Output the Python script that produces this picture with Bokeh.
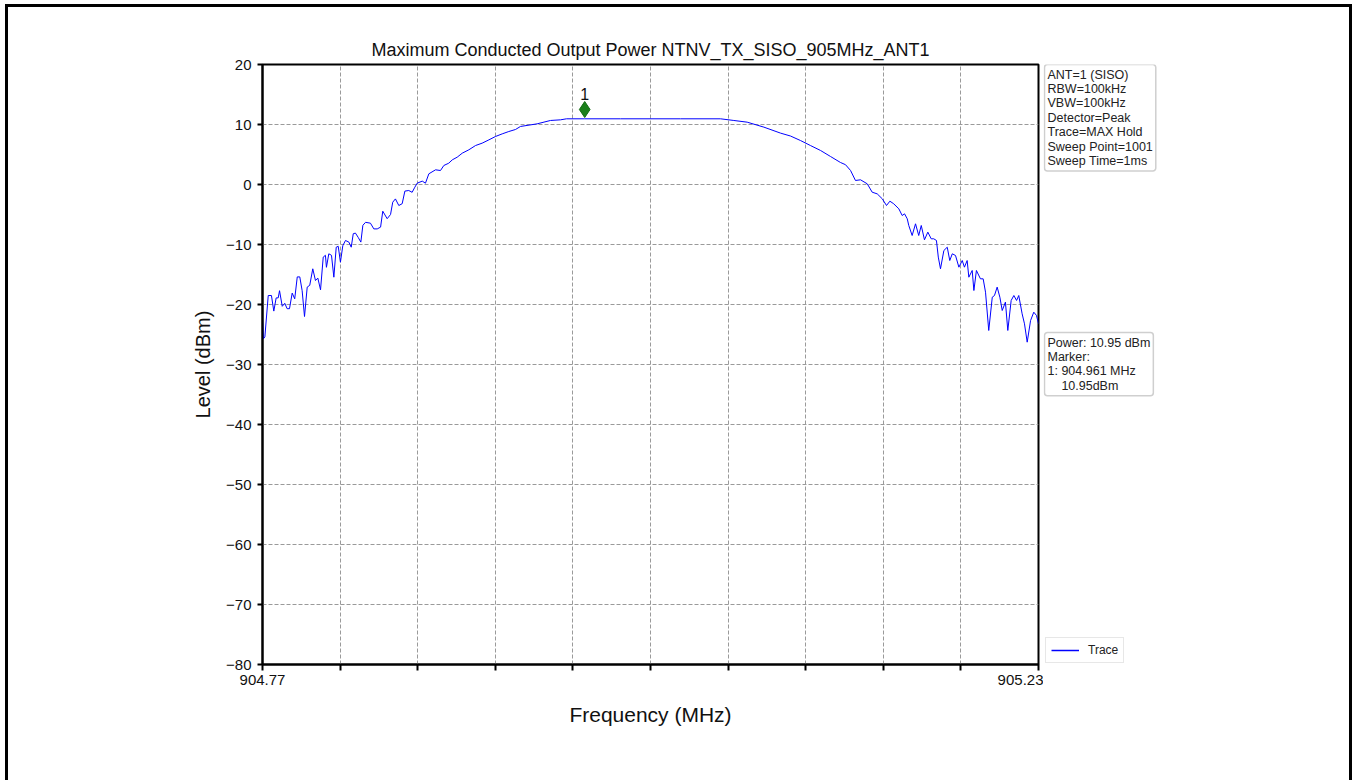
from bokeh.plotting import figure
from bokeh.layouts import row
from bokeh.core.properties import value
from bokeh.models import FixedTicker, Label, Legend, LegendItem, ColumnDataSource
from bokeh.transform import dodge
from bokeh.embed import file_html
from bokeh.resources import INLINE

# Spectrum trace (MAX hold), frequency in MHz and level in dBm
freq_mhz = [
    904.7700, 904.7706, 904.7714, 904.7734, 904.7753, 904.7767, 904.7781, 904.7793, 904.7801, 904.7817,
    904.7832, 904.7846, 904.7860, 904.7876, 904.7891, 904.7906, 904.7921, 904.7935, 904.7949, 904.7965,
    904.7980, 904.7998, 904.8014, 904.8028, 904.8044, 904.8060, 904.8073, 904.8079, 904.8093, 904.8109,
    904.8123, 904.8137, 904.8149, 904.8162, 904.8176, 904.8192, 904.8212, 904.8226, 904.8238, 904.8251,
    904.8267, 904.8283, 904.8295, 904.8311, 904.8340, 904.8360, 904.8380, 904.8400, 904.8413, 904.8439,
    904.8459, 904.8472, 904.8488, 904.8508, 904.8528, 904.8544, 904.8567, 904.8587, 904.8603, 904.8617,
    904.8647, 904.8666, 904.8686, 904.8726, 904.8755, 904.8775, 904.8804, 904.8825, 904.8854, 904.8884,
    904.8923, 904.8963, 904.9002, 904.9042, 904.9081, 904.9121, 904.9160, 904.9200, 904.9229, 904.9328,
    904.9407, 904.9467, 904.9502, 904.9610, 904.9822, 905.0178, 905.0415, 905.0494, 905.0573, 905.0672,
    905.0771, 905.0830, 905.0889, 905.0948, 905.1008, 905.1067, 905.1126, 905.1156, 905.1186, 905.1215,
    905.1245, 905.1285, 905.1314, 905.1344, 905.1374, 905.1399, 905.1419, 905.1442, 905.1472, 905.1492,
    905.1506, 905.1522, 905.1531, 905.1551, 905.1571, 905.1590, 905.1605, 905.1624, 905.1644, 905.1664,
    905.1679, 905.1695, 905.1706, 905.1719, 905.1739, 905.1759, 905.1774, 905.1789, 905.1808, 905.1828,
    905.1848, 905.1861, 905.1877, 905.1887, 905.1907, 905.1917, 905.1932, 905.1956, 905.1972, 905.1986,
    905.2005, 905.2026, 905.2039, 905.2055, 905.2071, 905.2085, 905.2104, 905.2118, 905.2138, 905.2154,
    905.2170, 905.2183, 905.2203, 905.2217, 905.2233, 905.2253, 905.2272, 905.2288, 905.2300,
]
level_dbm = [
    -22.4, -25.7, -25.4, -18.5, -18.5, -21.1, -18.9, -18.9, -17.7, -20.3,
    -19.8, -20.7, -20.7, -18.1, -19.05, -15.4, -15.4, -17.7, -22.0, -17.1,
    -16.8, -14.05, -16.0, -15.6, -17.55, -12.1, -11.8, -13.8, -11.55, -11.8,
    -15.45, -10.45, -10.3, -12.95, -10.2, -9.33, -9.6, -10.45, -8.2, -8.1,
    -8.8, -9.6, -6.8, -6.3, -6.45, -7.4, -7.4, -7.1, -4.45, -5.7,
    -5.0, -2.95, -2.4, -3.5, -3.2, -1.1, -1.0, -1.3, -0.45, 0.22,
    0.56, 0.22, 1.78, 2.45, 2.33, 3.17, 3.55, 4.11, 4.55, 5.22,
    5.78, 6.5, 6.89, 7.44, 8.0, 8.44, 8.83, 9.17, 9.67, 10.11,
    10.67, 10.78, 10.95, 10.95, 10.95, 10.95, 10.95, 10.67, 10.39, 9.56,
    8.56, 8.08, 7.33, 6.5, 5.67, 4.67, 3.67, 3.3, 2.33, 0.67,
    0.78, 0.11, -1.28, -1.56, -2.39, -3.5, -2.78, -3.22, -4.05, -5.17,
    -4.89, -5.72, -6.83, -8.5, -6.55, -8.5, -6.83, -9.22, -7.94, -9.05,
    -9.05, -9.33, -12.1, -14.05, -11.0, -10.45, -12.67, -11.55, -11.83, -13.78,
    -12.67, -13.78, -12.67, -15.45, -14.33, -17.67, -14.33, -15.72, -15.72, -17.95,
    -24.33, -18.78, -18.5, -17.1, -18.78, -21.0, -19.6, -24.33, -19.33, -18.5,
    -19.33, -18.5, -21.55, -23.22, -26.28, -22.67, -21.28, -21.83, -23.2,
]

# Peak marker
marker_freq = [904.961]
marker_level = [10.95]
marker_name = ["1"]
channel_power_dbm = 10.95

# Axis ticks
x_ticks = [904.770, 904.816, 904.862, 904.908, 904.954, 905.000,
           905.046, 905.092, 905.138, 905.184, 905.230]
x_tick_labels = ["904.77", "", "", "", "", "", "", "", "", "", "905.23"]
y_ticks = [-80, -70, -60, -50, -40, -30, -20, -10, 0, 10, 20]
y_tick_labels = ["\u221280", "\u221270", "\u221260", "\u221250", "\u221240", "\u221230",
                 "\u221220", "\u221210", "0", "10", "20"]

settings_lines = ["ANT=1 (SISO)", "RBW=100kHz", "VBW=100kHz", "Detector=Peak",
                  "Trace=MAX Hold", "Sweep Point=1001", "Sweep Time=1ms"]

FONT = "Liberation Sans"
TRACE_COLOR = "#0000ff"

# ---- main spectrum plot ----
p = figure(
    width=1035, height=773,
    x_range=(904.77, 905.23), y_range=(-80, 20),
    output_backend="svg", toolbar_location=None,
    min_border_left=254, min_border_right=5,
    min_border_top=57, min_border_bottom=116,
    title="Maximum Conducted Output Power NTNV_TX_SISO_905MHz_ANT1",
)

p.title.align = "center"
p.title.text_font = FONT
p.title.text_font_style = "normal"
p.title.text_font_size = "18px"
p.title.text_color = "#111111"
p.title.standoff = 10

p.outline_line_color = "black"
p.outline_line_width = 2
p.background_fill_color = "white"
p.border_fill_color = "white"

p.xaxis.ticker = FixedTicker(ticks=x_ticks)
p.xaxis.major_label_overrides = dict(zip(x_ticks, x_tick_labels))
p.yaxis.ticker = FixedTicker(ticks=y_ticks)
p.yaxis.major_label_overrides = dict(zip(y_ticks, y_tick_labels))
for ax in (p.xaxis, p.yaxis):
    ax.axis_line_width = 2
    ax.axis_line_color = "black"
    ax.major_tick_line_width = 2
    ax.major_tick_line_color = "black"
    ax.major_tick_in = 0
    ax.minor_tick_line_color = None
    ax.major_label_text_font = FONT
    ax.major_label_text_font_size = "15px"
    ax.major_label_text_color = "#111111"
    ax.axis_label_text_font = FONT
    ax.axis_label_text_font_style = "normal"
    ax.axis_label_text_color = "#111111"
p.xaxis.major_tick_out = 6
p.yaxis.major_tick_out = 5
p.xaxis.major_label_standoff = 4
p.yaxis.major_label_standoff = 6
p.xaxis.axis_label = "Frequency (MHz)"
p.yaxis.axis_label = "Level (dBm)"
p.xaxis.axis_label_text_font_size = "21px"
p.yaxis.axis_label_text_font_size = "20px"
p.xaxis.axis_label_standoff = 15
p.yaxis.axis_label_standoff = 9

p.grid.grid_line_color = "#9a9a9a"
p.grid.grid_line_dash = "4 2"
p.grid.grid_line_width = 1

trace_src = ColumnDataSource(dict(freq=freq_mhz, level=level_dbm))
p.line("freq", "level", source=trace_src, line_color=TRACE_COLOR, line_width=1)

# Marker diamond sits just above the peak it marks
mk_src = ColumnDataSource(dict(freq=marker_freq, level=marker_level, name=marker_name))
p.scatter(x="freq", y=dodge("level", 1.55, range=p.y_range), source=mk_src,
          marker="diamond", size=16, fill_color="#1a7f1a", line_color="#0f6a0f")
p.text(x="freq", y="level", text="name", source=mk_src, text_align="center",
       text_baseline="bottom", y_offset=-19, text_font_size="16px",
       text_color="#111111", text_font=value(FONT))

# ---- side panel: measurement settings, marker readout, legend ----
side = figure(
    width=306, height=773, x_range=(0, 1), y_range=(0, 1),
    output_backend="svg", toolbar_location=None,
    x_axis_type=None, y_axis_type=None,
    min_border_left=0, min_border_right=0,
    min_border_top=57, min_border_bottom=116,
)
side.grid.visible = False
side.outline_line_color = None
side.background_fill_color = "white"
side.border_fill_color = "white"

box_style = dict(x_units="screen", y_units="screen", anchor="top_left",
                 text_font=FONT, text_font_size="12.5px", text_color="#222222",
                 text_line_height=1.03,
                 background_fill_color="white", border_line_color="#cfcfcf",
                 border_line_width=1.5, border_radius=3, padding=3)
side.add_layout(Label(x=1, y=600, text="\n".join(settings_lines), **box_style))

marker_lines = [
    f"Power: {channel_power_dbm:.2f} dBm",
    "Marker:",
    f"1: {marker_freq[0]:.3f} MHz",
    f"\u00a0\u00a0\u00a0\u00a0{marker_level[0]:.2f}dBm",
]
side.add_layout(Label(x=1, y=332, text="\n".join(marker_lines), **box_style))

# Legend key for the trace (a line with no visible points of its own)
trace_key = side.line(x=[float("nan")], y=[float("nan")],
                      line_color=TRACE_COLOR, line_width=1.5)
legend = Legend(items=[LegendItem(label="Trace", renderers=[trace_key])],
                location=(2, 1), margin=0, padding=5, spacing=0,
                glyph_width=28, glyph_height=14, label_height=14,
                label_standoff=9, label_text_font=FONT,
                label_text_font_size="12px", label_text_color="#222222",
                border_line_color="#cfcfcf", border_line_width=1.5,
                background_fill_color="white", background_fill_alpha=1)
side.add_layout(legend)

layout = row(p, side, spacing=0)
layout.styles = {
    "margin-left": "5px", "margin-top": "4px",
    "border-top": "3px solid black", "border-left": "3px solid black",
    "border-right": "3px solid black",
}

open("out.html", "w").write(file_html(layout, INLINE))
